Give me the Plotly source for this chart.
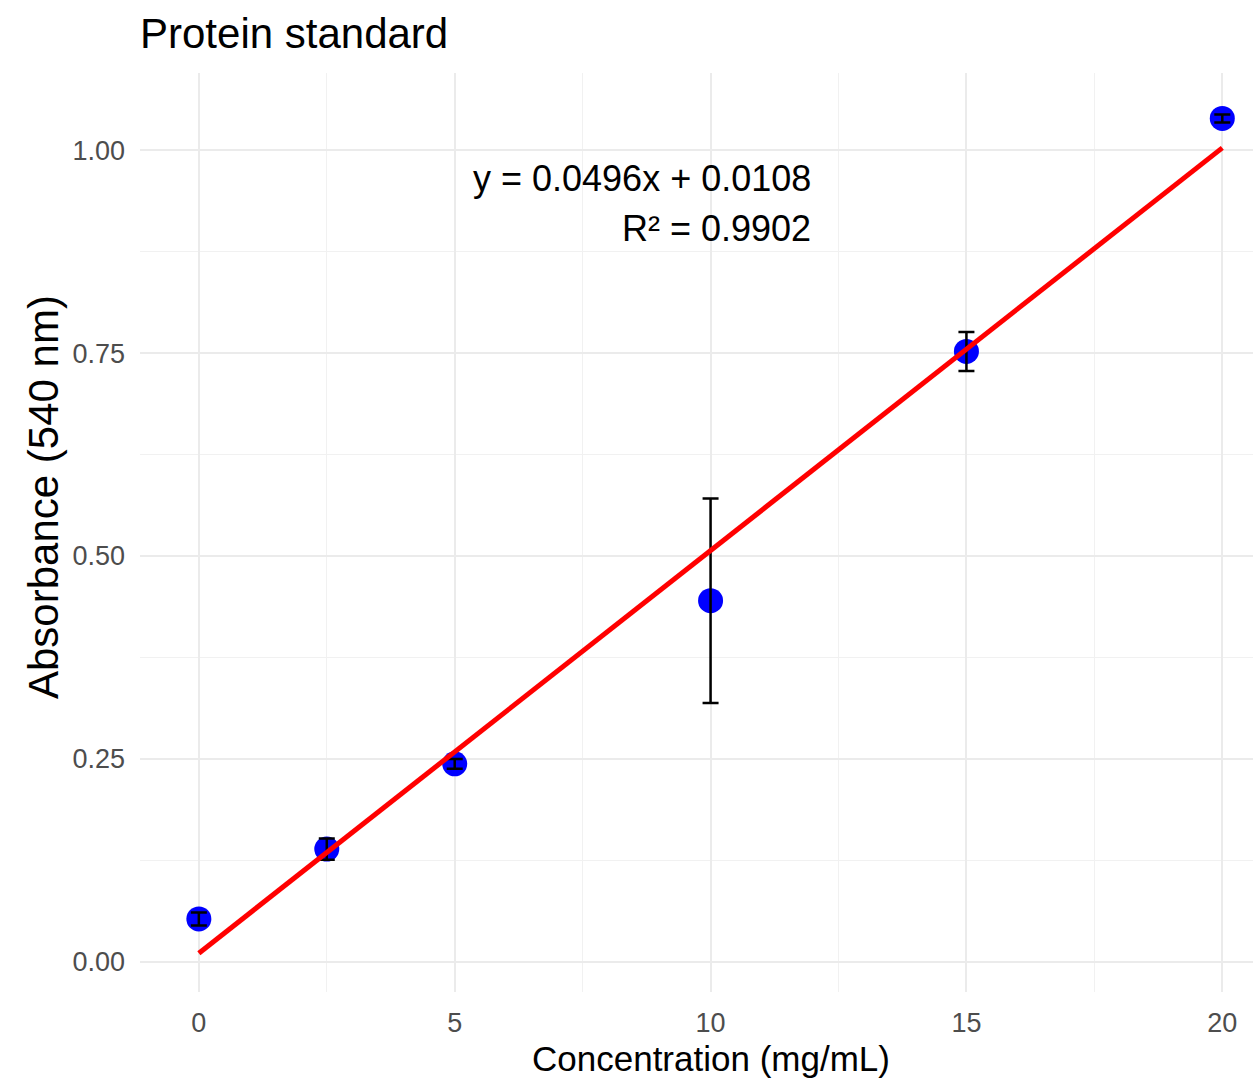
import plotly.graph_objects as go

# Protein standard curve: concentration vs absorbance at 540 nm
conc = [0, 2.5, 5, 10, 15, 20]
absorbance = [0.053, 0.139, 0.244, 0.445, 0.752, 1.039]
abs_sd = [0.008, 0.013, 0.006, 0.126, 0.024, 0.005]

# Linear fit reported on the chart
slope = 0.0496
intercept = 0.0108
r_squared = 0.9902

x_ticks = [0, 5, 10, 15, 20]
y_ticks = [0.00, 0.25, 0.50, 0.75, 1.00]

fit_x = [min(conc), max(conc)]
fit_y = [slope * v + intercept for v in fit_x]

FONT = "Liberation Sans, Arial, Helvetica, sans-serif"
W, H = 1253, 1082
M_L, M_R, M_T, M_B = 140, 0, 73, 90
PLOT_W = W - M_L - M_R
PLOT_H = H - M_T - M_B


def px_to_paper(px, py):
    """Convert a page pixel position into plot-area paper coordinates."""
    return (px - M_L) / PLOT_W, (H - M_B - py) / PLOT_H


fig = go.Figure()

# points
fig.add_trace(go.Scatter(
    x=conc, y=absorbance,
    mode="markers",
    marker=dict(color="#0000FF", size=25, line=dict(width=0)),
    showlegend=False, hoverinfo="skip",
))

# error bars drawn over the points
fig.add_trace(go.Scatter(
    x=conc, y=absorbance,
    mode="markers",
    marker=dict(size=1, color="rgba(0,0,0,0)"),
    error_y=dict(type="data", array=abs_sd, visible=True,
                 color="black", thickness=2.5, width=8),
    showlegend=False,
))

# fitted line
fig.add_trace(go.Scatter(
    x=fit_x, y=fit_y,
    mode="lines",
    line=dict(color="#FF0000", width=5),
    showlegend=False,
))

fig.add_annotation(
    x=12, y=0.965, xref="x", yref="y",
    text=f"y = {slope:.4f}x + {intercept:.4f}",
    showarrow=False, xanchor="right", yanchor="middle",
    font=dict(family=FONT, size=36, color="black"),
)
fig.add_annotation(
    x=12, y=0.903, xref="x", yref="y",
    text=f"R² = {r_squared:.4f}",
    showarrow=False, xanchor="right", yanchor="middle",
    font=dict(family=FONT, size=36, color="black"),
)

# axis titles
xt_x, xt_y = px_to_paper(711, 1058)
fig.add_annotation(
    x=xt_x, y=xt_y, xref="paper", yref="paper",
    text="Concentration (mg/mL)", showarrow=False,
    xanchor="center", yanchor="middle",
    font=dict(family=FONT, size=35, color="black"),
)
yt_x, yt_y = px_to_paper(43, 497)
fig.add_annotation(
    x=yt_x, y=yt_y, xref="paper", yref="paper",
    text="Absorbance (540 nm)", showarrow=False, textangle=-90,
    xanchor="center", yanchor="middle",
    font=dict(family=FONT, size=42, color="black"),
)

fig.update_layout(
    width=W, height=H,
    margin=dict(l=M_L, r=M_R, t=M_T, b=M_B),
    paper_bgcolor="white",
    plot_bgcolor="white",
    font=dict(family=FONT, color="black"),
    title=dict(
        text="Protein standard",
        x=M_L / W, xref="container", xanchor="left",
        y=1 - 33 / H, yref="container", yanchor="middle",
        font=dict(family=FONT, size=42, color="black"),
    ),
    xaxis=dict(
        range=[-1.15, 20.6],
        tickmode="array", tickvals=x_ticks,
        ticktext=[str(v) for v in x_ticks],
        tickfont=dict(family=FONT, size=27, color="#4D4D4D"),
        ticks="", ticklabelstandoff=12,
        showgrid=True, gridcolor="#EBEBEB", gridwidth=2,
        minor=dict(tickmode="array", tickvals=[2.5, 7.5, 12.5, 17.5],
                   showgrid=True, gridcolor="#F1F1F1", gridwidth=1.2),
        zeroline=False, showline=False,
    ),
    yaxis=dict(
        range=[-0.037, 1.095],
        tickmode="array", tickvals=y_ticks,
        ticktext=[f"{v:.2f}" for v in y_ticks],
        tickfont=dict(family=FONT, size=27, color="#4D4D4D"),
        ticks="", ticklabelstandoff=14,
        showgrid=True, gridcolor="#EBEBEB", gridwidth=2,
        minor=dict(tickmode="array", tickvals=[0.125, 0.375, 0.625, 0.875],
                   showgrid=True, gridcolor="#F1F1F1", gridwidth=1.2),
        zeroline=False, showline=False,
    ),
)

fig.write_html("out.html")
